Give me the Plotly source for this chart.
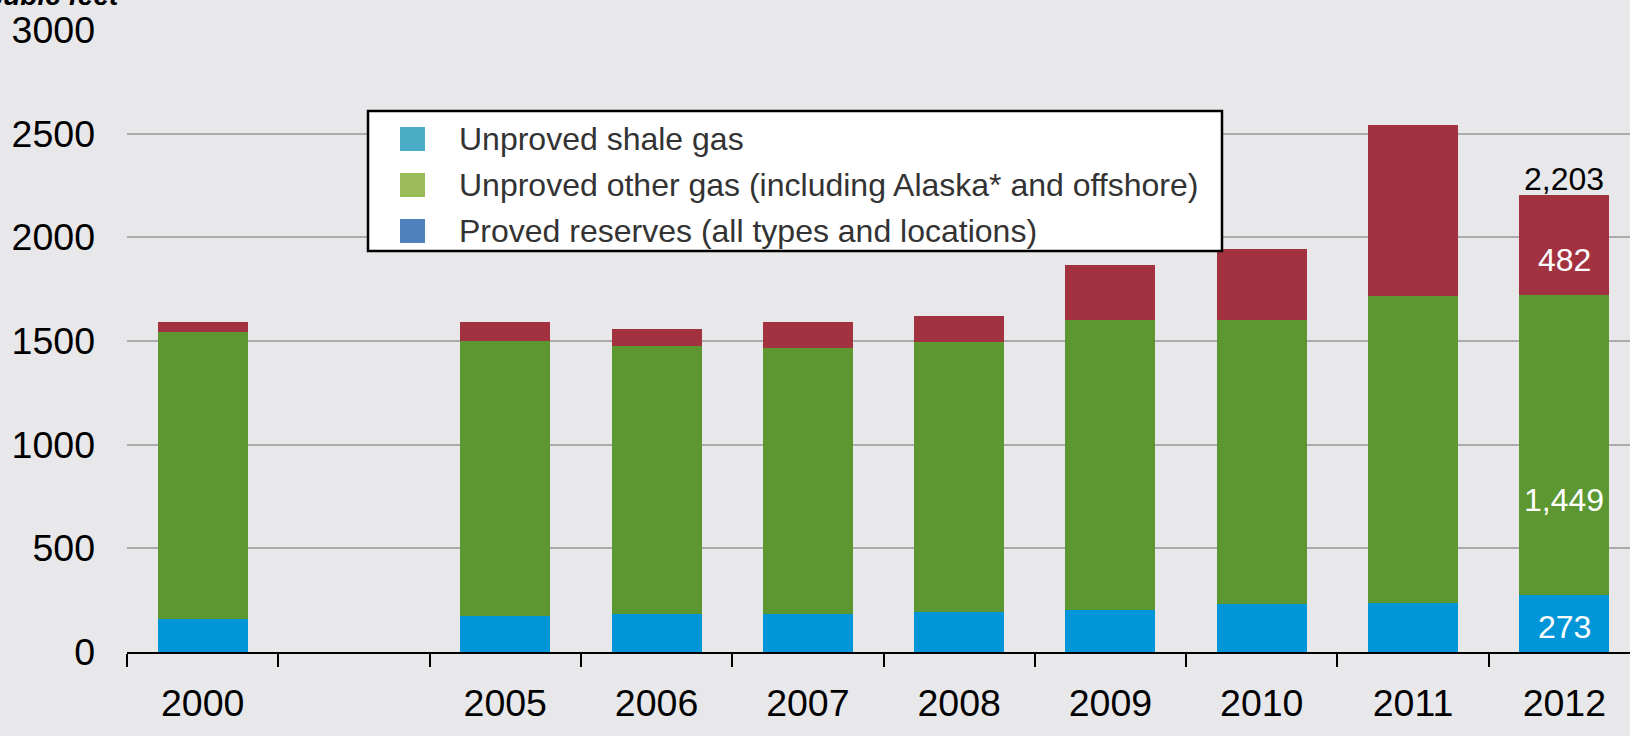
import plotly.graph_objects as go

# Natural gas resources by year (trillion cubic feet)
years = ["2000", " ", "2005", "2006", "2007", "2008", "2009", "2010", "2011", "2012"]
bar_years = ["2000", "2005", "2006", "2007", "2008", "2009", "2010", "2011", "2012"]
proved = [159, 175, 183, 183, 194, 203, 230, 238, 273]
unproved_other = [1383, 1327, 1293, 1285, 1300, 1397, 1370, 1478, 1449]
unproved_shale = [51, 90, 83, 124, 125, 265, 342, 826, 482]
reported_total_2012 = 2203

y_ticks = [0, 500, 1000, 1500, 2000, 2500, 3000]

legend_labels = [
    "Unproved shale gas",
    "Unproved other gas (including Alaska* and offshore)",
    "Proved reserves (all types and locations)",
]
legend_colors = ["#4BACC6", "#9BBB59", "#4F81BD"]

bar_colors = {"proved": "#0096D8", "other": "#5D9732", "shale": "#A33241"}
bg = "#E8E8EB"
font_family = "Liberation Sans, Arial, sans-serif"

fig = go.Figure()
fig.add_trace(go.Bar(x=bar_years, y=proved, marker_color=bar_colors["proved"],
                     marker_line_width=0, name=legend_labels[2]))
fig.add_trace(go.Bar(x=bar_years, y=unproved_other, marker_color=bar_colors["other"],
                     marker_line_width=0, name=legend_labels[1]))
fig.add_trace(go.Bar(x=bar_years, y=unproved_shale, marker_color=bar_colors["shale"],
                     marker_line_width=0, name=legend_labels[0]))

# Value labels on the latest year (category axes take the slot index)
last = len(bar_years) - 1
last_slot = years.index(bar_years[last])
p, o, s = proved[last], unproved_other[last], unproved_shale[last]
value_labels = [
    (p * 0.45, p),
    (p + o * 0.317, o),
    (p + o + s * 0.35, s),
]
annotations = []
for y, v in value_labels:
    annotations.append(dict(x=last_slot, y=y, xref="x", yref="y",
                            text=f"{v:,}", showarrow=False,
                            font=dict(family=font_family, size=32, color="white")))
annotations.append(dict(x=last_slot, y=p + o + s, xref="x", yref="y",
                        text=f"{reported_total_2012:,}", showarrow=False,
                        yanchor="bottom", yshift=-4,
                        font=dict(family=font_family, size=32, color="black")))

# Units caption in the top-left corner
annotations.append(dict(x=-0.0035, y=1.0, xref="paper", yref="paper",
                        xanchor="right", yanchor="bottom", yshift=17,
                        text="<b><i>Trillion cubic feet</i></b>", showarrow=False,
                        font=dict(family=font_family, size=28, color="black")))

# Legend box drawn in pixel-aligned paper coordinates
W, H = 1630, 736
ml, mr, mt, mb = 127, 0, 30, 84
pw, ph = W - ml - mr, H - mt - mb


def px(x):
    return (x - ml) / pw


def py(y):
    return (H - mb - y) / ph


shapes = [dict(type="rect", xref="paper", yref="paper",
               x0=px(368), x1=px(1222), y0=py(251), y1=py(111),
               fillcolor="white", line=dict(color="black", width=2.5), layer="above")]
row_y = [139, 185, 231]
for label, color, yc in zip(legend_labels, legend_colors, row_y):
    shapes.append(dict(type="rect", xref="paper", yref="paper",
                       x0=px(400), x1=px(425), y0=py(yc + 12), y1=py(yc - 12),
                       fillcolor=color, line=dict(width=0), layer="above"))
    annotations.append(dict(x=px(457), y=py(yc), xref="paper", yref="paper",
                            xanchor="left", yanchor="middle", text=label,
                            showarrow=False,
                            font=dict(family=font_family, size=32, color="#333333")))

fig.update_layout(
    width=W, height=H,
    margin=dict(l=ml, r=mr, t=mt, b=mb, pad=0),
    barmode="stack",
    bargap=0.405,
    showlegend=False,
    paper_bgcolor=bg,
    plot_bgcolor=bg,
    font=dict(family=font_family, color="black"),
    annotations=annotations,
    shapes=shapes,
    xaxis=dict(
        type="category",
        categoryorder="array",
        categoryarray=years,
        range=[-0.5, -0.5 + pw / 151.3],
        tickson="boundaries",
        ticks="outside", ticklen=13, tickwidth=2, tickcolor="black",
        showline=True, linecolor="black", linewidth=2,
        showgrid=False,
        tickfont=dict(family=font_family, size=37.5, color="black"),
        ticklabelstandoff=17,
    ),
    yaxis=dict(
        range=[0, 3000],
        tickvals=y_ticks,
        ticktext=[str(v) for v in y_ticks],
        showgrid=True, gridcolor="#ABABAB", gridwidth=2,
        zeroline=False, showline=False,
        ticks="", ticklabelstandoff=31,
        tickfont=dict(family=font_family, size=37.5, color="black"),
    ),
)

fig.write_html("out.html")
